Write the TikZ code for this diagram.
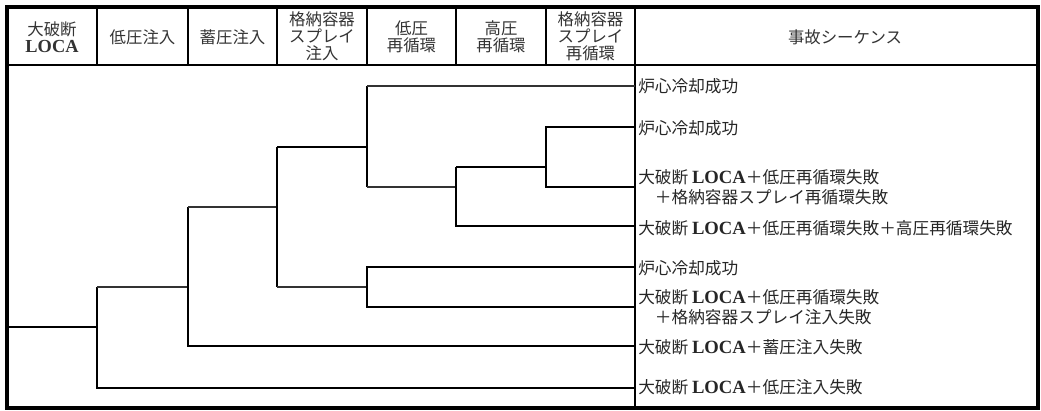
\documentclass[tikz,border=0pt]{standalone}
\usepackage{fontspec}
\newfontfamily\jp{Noto Sans CJK JP}
\newfontfamily\lserif[Scale=1.12]{Liberation Serif}
\newcommand{\loca}{{\lserif\bfseries LOCA}}
\begin{document}
\begin{tikzpicture}[x=0.75pt,y=-0.75pt,
  hdr/.style={font=\jp\fontsize{12.3}{12.6}\selectfont, align=center, inner sep=0pt, text=black!80},
  seqlabel/.style={font=\jp\fontsize{12.5}{15}\selectfont, align=left, anchor=west, inner sep=0pt, text=black!85},
  thickbr/.style={line width=1.8pt},
  thinbr/.style={line width=1.1pt, draw=black!80},
  frame/.style={line width=2.6pt},
  grid/.style={line width=1.3pt}]
\useasboundingbox (0,0) rectangle (1041,410);
% frame and header
\draw[frame] (7,7) rectangle (1038,408);
\draw[line width=1.8pt] (7,65) -- (1038,65);
\foreach \x in {97,188,277,367,456,546} \draw[grid] (\x,7) -- (\x,65);
\draw[grid] (635,7) -- (635,65);
\draw[line width=0.9pt] (635,65) -- (635,408);
% header texts
\node[hdr] (h1) at (52,37) {大破断\\\loca};
\node[hdr] (h2) at (142.5,37) {低圧注入};
\node[hdr] (h3) at (232.5,37) {蓄圧注入};
\node[hdr] (h4) at (322,36) {格納容器\\スプレイ\\注入};
\node[hdr] (h5) at (411.5,37) {低圧\\再循環};
\node[hdr] (h6) at (501,37) {高圧\\再循環};
\node[hdr] (h7) at (590.5,36) {格納容器\\スプレイ\\再循環};
\node[hdr] (h8) at (845,37) {事故シーケンス};
% end points on sequence line
\coordinate (e1) at (635,86);
\coordinate (e2) at (635,127);
\coordinate (e3) at (635,187);
\coordinate (e4) at (635,226);
\coordinate (e5) at (635,267);
\coordinate (e6) at (635,307);
\coordinate (e7) at (635,346);
\coordinate (e8) at (635,388);
% branch points
\coordinate (r) at (7,327);
\coordinate (A) at (97,327);
\coordinate (B) at (188,287);
\coordinate (C) at (277,207);
\coordinate (D) at (367,287);
\coordinate (E) at (367,147);
\coordinate (F) at (456,187);
\coordinate (G) at (546,167);
% tree
\draw[thickbr] (r) -- (A);
\draw[thickbr] (97,287) -- (97,388) -- (e8);
\draw[thinbr] (97,287) -- (B);
\draw[thickbr] (188,207) -- (188,346) -- (e7);
\draw[thinbr] (188,207) -- (C);
\draw[thickbr] (277,147) -- (277,287);
\draw[thinbr] (277,287) -- (D);
\draw[thickbr] (e5) -- (367,267) -- (367,307) -- (e6);
\draw[thickbr] (277,147) -- (E);
\draw[thickbr] (367,86) -- (367,187);
\draw[thinbr] (367,86) -- (e1);
\draw[thinbr] (367,187) -- (F);
\draw[thickbr] (456,167) -- (456,226) -- (e4);
\draw[thickbr] (456,167) -- (G);
\draw[thickbr] (e2) -- (546,127) -- (546,187) -- (e3);
% labels
\node[seqlabel] (s1) at (638,86) {炉心冷却成功};
\node[seqlabel] (s2) at (638,128) {炉心冷却成功};
\node[seqlabel] (s3) at (638,187) {大破断 \loca＋低圧再循環失敗\\　＋格納容器スプレイ再循環失敗};
\node[seqlabel] (s4) at (638,228) {大破断 \loca＋低圧再循環失敗＋高圧再循環失敗};
\node[seqlabel] (s5) at (638,268) {炉心冷却成功};
\node[seqlabel] (s6) at (638,307) {大破断 \loca＋低圧再循環失敗\\　＋格納容器スプレイ注入失敗};
\node[seqlabel] (s7) at (638,347) {大破断 \loca＋蓄圧注入失敗};
\node[seqlabel] (s8) at (638,387) {大破断 \loca＋低圧注入失敗};
\end{tikzpicture}
\end{document}
